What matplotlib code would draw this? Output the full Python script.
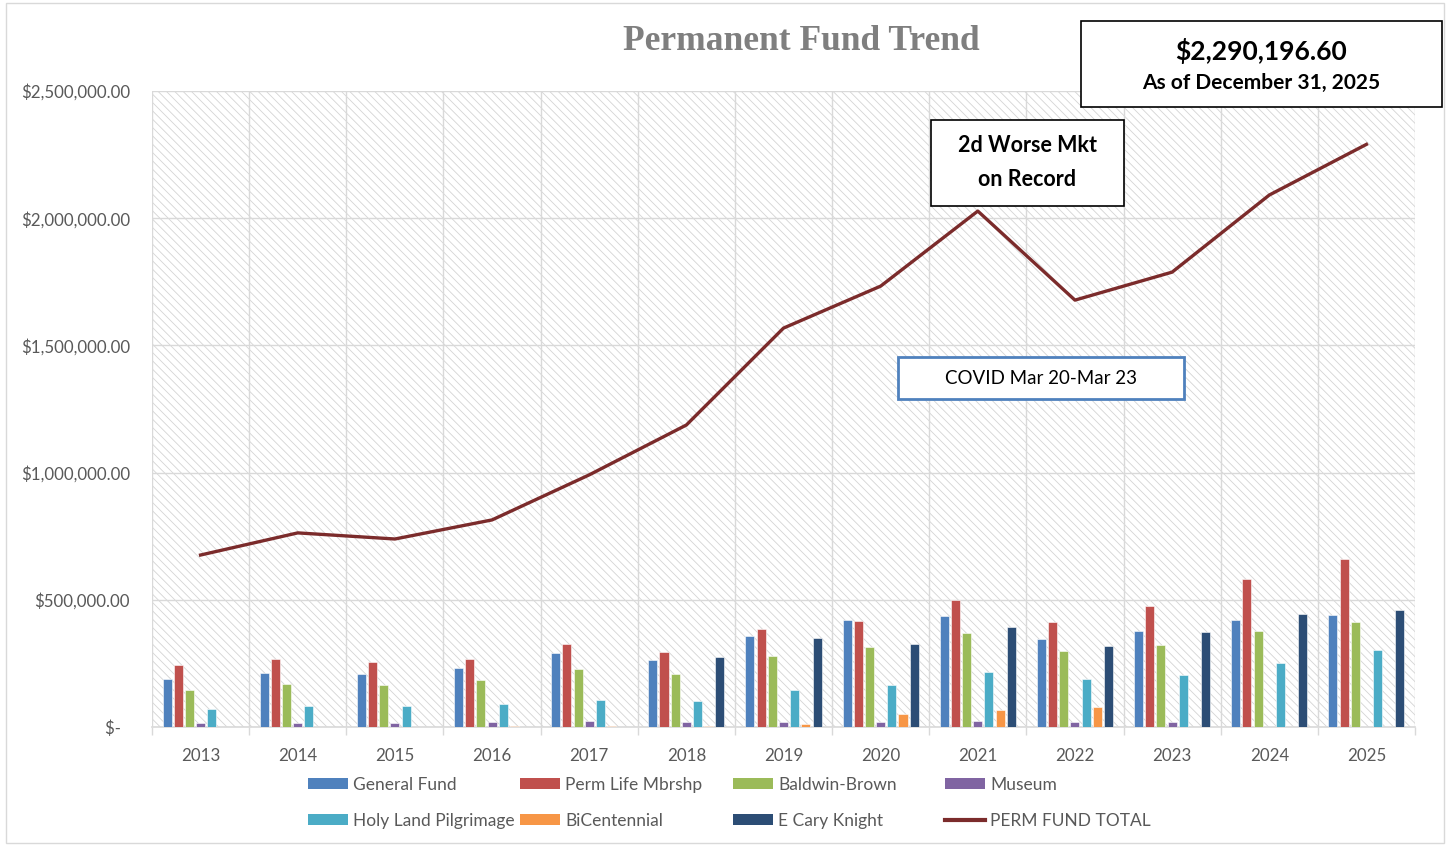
import matplotlib
matplotlib.use("Agg")
import matplotlib.pyplot as plt
import numpy as np
from matplotlib.patches import Rectangle, Patch
from matplotlib.lines import Line2D

years = ["2013", "2014", "2015", "2016", "2017", "2018", "2019",
         "2020", "2021", "2022", "2023", "2024", "2025"]

general_fund = [190e3, 212e3, 207e3, 230e3, 289e3, 262e3, 359e3, 421e3, 435e3, 346e3, 376e3, 419e3, 440e3]
perm_life = [244e3, 269e3, 254e3, 269e3, 325e3, 296e3, 387e3, 418e3, 499e3, 414e3, 475e3, 583e3, 660e3]
baldwin_brown = [144e3, 168e3, 165e3, 186e3, 228e3, 210e3, 279e3, 313e3, 370e3, 298e3, 322e3, 377e3, 412e3]
museum = [16e3, 16e3, 16e3, 20e3, 22e3, 21e3, 18e3, 18e3, 24e3, 18e3, 20e3, 0, 0]
holy_land = [71e3, 83e3, 81e3, 90e3, 105e3, 104e3, 145e3, 165e3, 215e3, 187e3, 203e3, 253e3, 304e3]
bicentennial = [0, 0, 0, 2e3, 5e3, 5e3, 10e3, 50e3, 67e3, 77e3, 0, 0, 0]
e_cary_knight = [0, 0, 0, 0, 0, 277e3, 349e3, 326e3, 392e3, 317e3, 375e3, 443e3, 461e3]
perm_total = [676e3, 763e3, 739e3, 814e3, 991e3, 1187e3, 1568e3, 1733e3, 2028e3, 1678e3, 1788e3, 2091e3, 2290196.60]

series_names = ["General Fund", "Perm Life Mbrshp", "Baldwin-Brown", "Museum",
                "Holy Land Pilgrimage", "BiCentennial", "E Cary Knight"]
series_vals = [general_fund, perm_life, baldwin_brown, museum,
               holy_land, bicentennial, e_cary_knight]
colors = ["#4F81BD", "#C0504D", "#9BBB59", "#8064A2", "#4BACC6", "#F79646", "#2C4D75"]
line_color = "#7B2B2B"

ytick_vals = [0, 500e3, 1000e3, 1500e3, 2000e3, 2500e3]
ytick_labels = ["$-  ", "$500,000.00", "$1,000,000.00", "$1,500,000.00",
                "$2,000,000.00", "$2,500,000.00"]

plt.rcParams["font.family"] = ["Lato", "DejaVu Sans"]
plt.rcParams["hatch.linewidth"] = 0.6
plt.rcParams["hatch.color"] = "#d4d4d4"

W, H = 1449, 846
fig = plt.figure(figsize=(W / 100, H / 100), dpi=100)
ax = fig.add_axes([152 / W, 1 - 727 / H, (1415 - 152) / W, (727 - 91) / H])

# hatched plot background
ax.add_patch(Rectangle((0, 0), 1, 1, transform=ax.transAxes, facecolor="white",
                       edgecolor="#d4d4d4", hatch="\\\\\\\\", linewidth=0, zorder=0))

x = np.arange(len(years))
step = 0.115
width = 0.093
for i, (name, vals, c) in enumerate(zip(series_names, series_vals, colors)):
    ax.bar(x + (i - 3) * step, vals, width=width, color=c, edgecolor="white",
           linewidth=0.4, zorder=3, label=name)

ax.plot(x, perm_total, color=line_color, linewidth=2.4, zorder=4,
        label="PERM FUND TOTAL")

ax.set_xlim(-0.5, len(years) - 0.5)
ax.set_ylim(0, 2500e3)

ax.set_yticks(ytick_vals)
ax.set_yticklabels(ytick_labels)
ax.tick_params(axis="y", length=0, pad=16, labelsize=12.2, labelcolor="#595959")

ax.set_xticks(x)
ax.set_xticklabels(years)
ax.set_xticks(np.arange(-0.5, len(years)), minor=True)
ax.tick_params(axis="x", which="major", length=0, pad=15, labelsize=12.2,
               labelcolor="#595959")
ax.tick_params(axis="x", which="minor", length=6, color="#d9d9d9", width=1)

ax.grid(True, axis="y", color="#d9d9d9", linewidth=1, zorder=1)
ax.grid(True, axis="x", which="minor", color="#d9d9d9", linewidth=1, zorder=1)
ax.grid(False, axis="x", which="major")
ax.set_axisbelow(True)
for side in ["top", "right", "left"]:
    ax.spines[side].set_visible(False)
ax.spines["bottom"].set_color("#d9d9d9")
ax.spines["bottom"].set_linewidth(1.2)

# title
fig.text(801 / W, 1 - 42 / H, "Permanent Fund Trend", ha="center", va="center",
         fontsize=25.5, fontweight="bold", color="#7f7f7f", family="Liberation Serif")

# total value box (top right)
fig.patches.append(Rectangle((1081 / W, 1 - 107 / H), (1442 - 1081) / W, 86 / H,
                             transform=fig.transFigure, facecolor="white",
                             edgecolor="black", linewidth=1.2, zorder=5))
fig.text(1261 / W, 1 - 51 / H, "$2,290,196.60", ha="center", va="center",
         fontsize=19, fontweight="bold", color="black", zorder=6)
fig.text(1261 / W, 1 - 83 / H, "As of December 31, 2025", ha="center", va="center",
         fontsize=15, fontweight="bold", color="black", zorder=6)

# market note box
fig.patches.append(Rectangle((931 / W, 1 - 206 / H), (1124 - 931) / W, 86 / H,
                             transform=fig.transFigure, facecolor="white",
                             edgecolor="black", linewidth=1.2, zorder=5))
fig.text(1027 / W, 1 - 145 / H, "2d Worse Mkt", ha="center", va="center",
         fontsize=15.5, fontweight="bold", color="black", zorder=6)
fig.text(1027 / W, 1 - 179 / H, "on Record", ha="center", va="center",
         fontsize=15.5, fontweight="bold", color="black", zorder=6)

# covid box
fig.patches.append(Rectangle((898 / W, 1 - 399 / H), (1184 - 898) / W, 42 / H,
                             transform=fig.transFigure, facecolor="white",
                             edgecolor="#4F81BD", linewidth=2, zorder=5))
fig.text(1041 / W, 1 - 378 / H, "COVID Mar 20-Mar 23", ha="center", va="center",
         fontsize=13.5, color="black", zorder=6)

# legend: fixed grid of entries, 4 columns x 2 rows
handles = [Patch(facecolor=c, edgecolor="none") for c in colors]
handles.append(Line2D([0], [0], color=line_color, linewidth=3))
labels = series_names + ["PERM FUND TOTAL"]
col_x = [308, 520, 733, 945]
row_y = [785, 821]
for k, (h, l) in enumerate(zip(handles, labels)):
    r, c = divmod(k, 4)
    fig.legend([h], [l], loc="center left",
               bbox_to_anchor=(col_x[c] / W, 1 - row_y[r] / H),
               frameon=False, fontsize=12.5, handlelength=2.3, handleheight=0.6,
               handletextpad=0.3, borderpad=0, borderaxespad=0,
               labelcolor="#595959")

# chart border
fig.patches.append(Rectangle((6 / W, 3 / H), (1444 - 6) / W, (843 - 3) / H,
                             transform=fig.transFigure, facecolor="none",
                             edgecolor="#d9d9d9", linewidth=1, zorder=0))

fig.savefig("out.png", dpi=100)
